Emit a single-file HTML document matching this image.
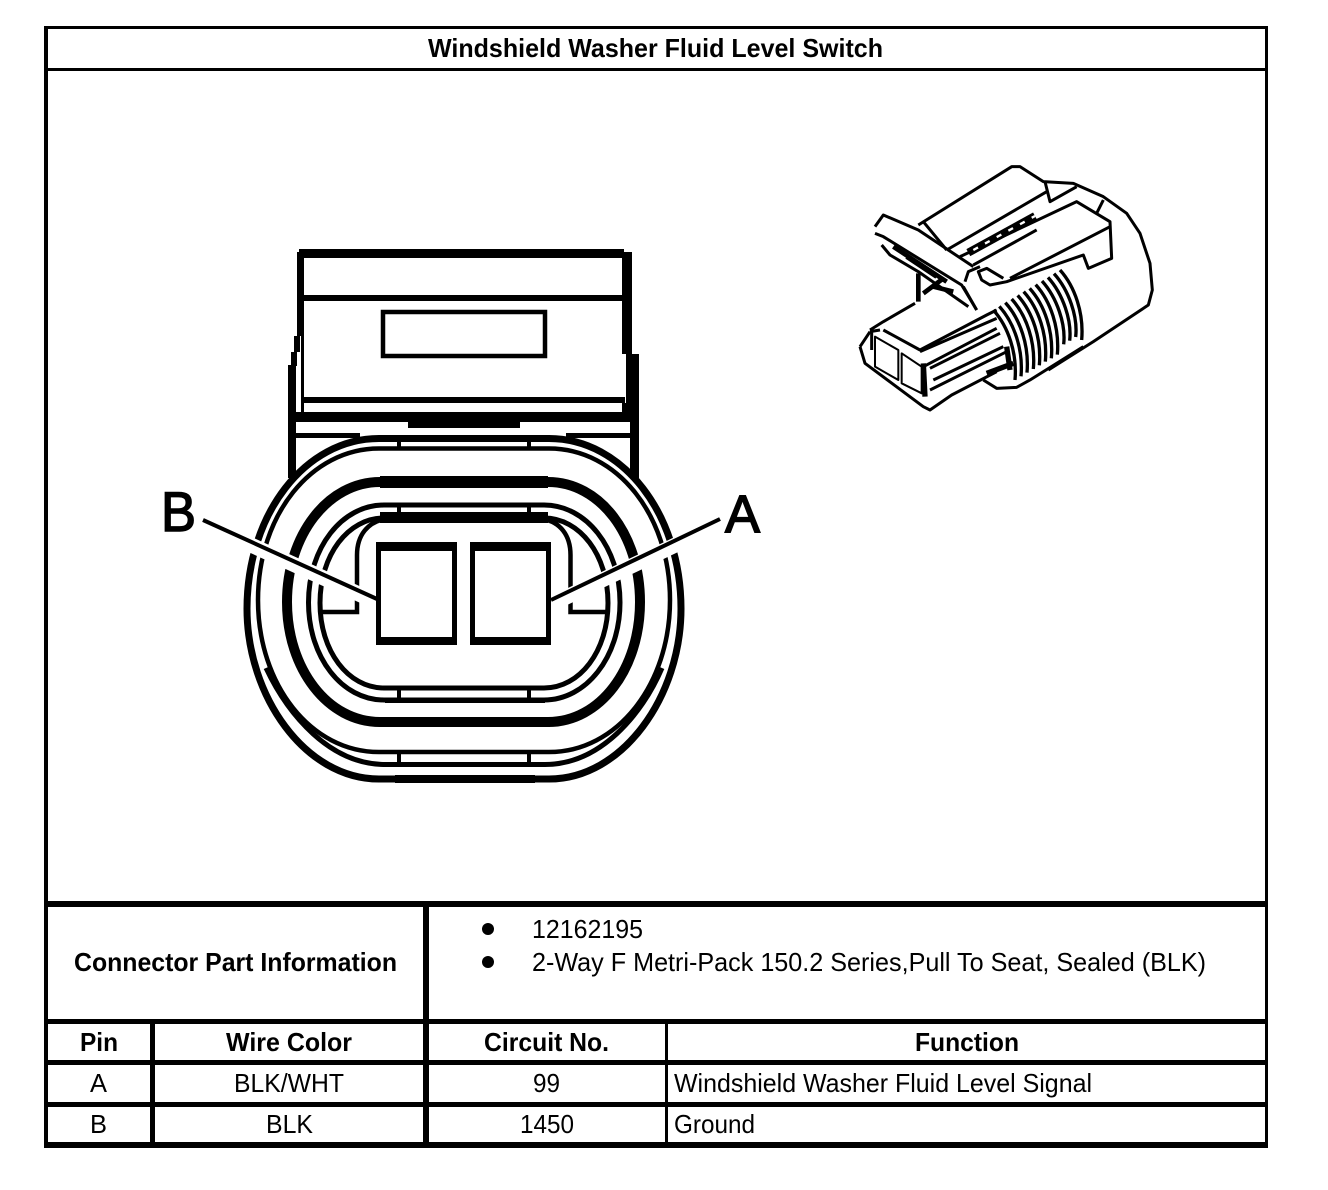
<!DOCTYPE html>
<html><head><meta charset="utf-8"><style>
html,body{margin:0;padding:0;background:#fff;width:1328px;height:1190px;overflow:hidden}
svg{display:block}
text{font-family:"Liberation Sans",Arial,sans-serif;font-size:26px;fill:#000}
.b{font-weight:bold}
</style></head><body>
<svg width="1328" height="1190" viewBox="0 0 1328 1190" xmlns="http://www.w3.org/2000/svg">
<rect width="1328" height="1190" fill="#fff"/>
<!-- table frame -->
<g fill="#000" shape-rendering="crispEdges">
<rect x="44" y="26" width="1224" height="3"/>
<rect x="44" y="68" width="1224" height="3"/>
<rect x="44" y="26" width="4" height="1122"/>
<rect x="1265" y="26" width="3" height="1122"/>
<rect x="44" y="901" width="1224" height="6"/>
<rect x="44" y="1019" width="1224" height="5"/>
<rect x="44" y="1060" width="1224" height="5"/>
<rect x="44" y="1102" width="1224" height="5"/>
<rect x="44" y="1142" width="1224" height="6"/>
<rect x="423" y="901" width="6" height="247"/>
<rect x="150" y="1019" width="5" height="129"/>
<rect x="665" y="1019" width="3" height="129"/>
</g>
<text class="b" x="428" y="57" textLength="455" lengthAdjust="spacingAndGlyphs">Windshield Washer Fluid Level Switch</text>
<text class="b" x="74" y="971" textLength="323" lengthAdjust="spacingAndGlyphs">Connector Part Information</text>
<circle cx="488" cy="929" r="6"/><circle cx="488" cy="962" r="6"/>
<text x="532" y="938" textLength="111" lengthAdjust="spacingAndGlyphs">12162195</text>
<text x="532" y="971" textLength="674" lengthAdjust="spacingAndGlyphs">2-Way F Metri-Pack 150.2 Series,Pull To Seat, Sealed (BLK)</text>
<text class="b" x="80" y="1051" textLength="38" lengthAdjust="spacingAndGlyphs">Pin</text>
<text class="b" x="226" y="1051" textLength="126" lengthAdjust="spacingAndGlyphs">Wire Color</text>
<text class="b" x="484" y="1051" textLength="125" lengthAdjust="spacingAndGlyphs">Circuit No.</text>
<text class="b" x="915" y="1051" textLength="104" lengthAdjust="spacingAndGlyphs">Function</text>
<text x="90" y="1092" textLength="17" lengthAdjust="spacingAndGlyphs">A</text>
<text x="234" y="1092" textLength="110" lengthAdjust="spacingAndGlyphs">BLK/WHT</text>
<text x="533" y="1092" textLength="27" lengthAdjust="spacingAndGlyphs">99</text>
<text x="674" y="1092" textLength="418" lengthAdjust="spacingAndGlyphs">Windshield Washer Fluid Level Signal</text>
<text x="90" y="1133" textLength="17" lengthAdjust="spacingAndGlyphs">B</text>
<text x="266" y="1133" textLength="47" lengthAdjust="spacingAndGlyphs">BLK</text>
<text x="520" y="1133" textLength="54" lengthAdjust="spacingAndGlyphs">1450</text>
<text x="674" y="1133" textLength="81" lengthAdjust="spacingAndGlyphs">Ground</text>

<!-- main connector -->
<g fill="none" stroke="#000">
<!-- top block -->
<g fill="#000" stroke="none" shape-rendering="crispEdges">
<rect x="299" y="249" width="325" height="9"/>
<rect x="297" y="252" width="7" height="84"/>
<rect x="622" y="252" width="10" height="102"/>
<rect x="304" y="295" width="318" height="6"/>
<rect x="294" y="336" width="6" height="16"/>
<rect x="288" y="365" width="8" height="113"/>
<rect x="291" y="352" width="6" height="14"/>
<rect x="301" y="336" width="3" height="76"/>
<rect x="626" y="354" width="13" height="66"/>
<rect x="622" y="403" width="6" height="10"/>
<rect x="630" y="420" width="9" height="58"/>
<rect x="304" y="397" width="321" height="6"/>
<rect x="295" y="412" width="335" height="10"/>
<rect x="408" y="422" width="112" height="6"/>
<rect x="294" y="433" width="66" height="5"/>
<rect x="566" y="433" width="66" height="5"/>
</g>
<rect x="383" y="312" width="162" height="44" stroke-width="4.5"/>
<!-- rings -->
<path stroke-width="7" d="M379 438.5H549C623 438.5 681 514 681 608.75C681 696 623 779 549 779H379C305 779 247 696 247 608.75C247 514 305 438.5 379 438.5Z"/>
<path stroke-width="4.5" d="M379 448.5H549C617 448.500 670 515 670 600C670 685 617 752 549 752H379C311 752 258 685 258 600C258 515 311 448.5 379 448.5Z"/>
<path stroke-width="5" d="M266 668C288 715 330 764.5 385 764.5H545C600 764.5 642 715 662 668"/>
<path stroke-width="10" d="M380 482H548C600 482 640 535 640 602C640 669 600 722 548 722H380C328 722 287 669 287 602C287 535 328 482 380 482Z"/>
<path stroke-width="5" d="M384 505H544C586 505 620 547.5 620 602.5C620 657.5 586 700 544 700H384C342 700 308.5 657.5 308.5 602.5C308.5 547.5 342 505 384 505Z"/>
<path stroke-width="5" d="M384 518H544C580 518 608 555 608 603C608 651 580 688 544 688H384C348 688 320 651 320 603C320 555 348 518 384 518Z"/>
<g fill="#000" stroke="none" shape-rendering="crispEdges">
<rect x="380" y="512" width="168" height="11"/>
<rect x="385" y="698" width="160" height="5"/>
<rect x="380" y="476" width="168" height="12"/>
<rect x="380" y="717" width="170" height="10"/>
<rect x="380" y="435" width="170" height="7"/>
<rect x="395" y="775" width="140" height="8"/>
<rect x="397" y="442" width="4" height="6"/>
<rect x="527" y="442" width="4" height="6"/>
<rect x="397" y="505" width="4" height="8"/>
<rect x="527" y="505" width="4" height="8"/>
<rect x="397" y="688" width="4" height="11"/>
<rect x="527" y="688" width="4" height="11"/>
<rect x="397" y="752" width="4" height="14"/>
<rect x="527" y="752" width="4" height="14"/>
</g>
<!-- inner notches -->
<path stroke-width="4.5" d="M385 519C368 522 357 535 357 555V612H320"/>
<path stroke-width="4.5" d="M543 519C560 522 570.5 535 570.5 555V612H608"/>
<!-- halos -->
<line x1="240" y1="540" x2="372" y2="600" stroke="#fff" stroke-width="15"/>
<line x1="688" y1="539" x2="556" y2="602" stroke="#fff" stroke-width="15"/>
<!-- pins -->
<g fill="#000" stroke="none" shape-rendering="crispEdges">
<path fill-rule="evenodd" d="M376 542H457V645H376ZM381 551V637H452V551Z"/>
<path fill-rule="evenodd" d="M470 542H551V645H470ZM475 551V637H546V551Z"/>
</g>
<!-- leaders -->
<line x1="203" y1="520" x2="377" y2="599" stroke-width="4"/>
<line x1="551" y1="600" x2="720" y2="519" stroke-width="4"/>
</g>
<text x="161" y="531" textLength="35" lengthAdjust="spacingAndGlyphs" style="font-size:56px;stroke:#000;stroke-width:1.5">B</text>
<text x="725" y="532" textLength="35" lengthAdjust="spacingAndGlyphs" style="font-size:53px;stroke:#000;stroke-width:1.5">A</text>

<!-- isometric view -->
<g transform="translate(840 150) scale(.33333)" fill="none" stroke="#000" stroke-width="9" stroke-linejoin="round">
<path d="M235 225L515 50H540L610 95L700 100L790 140L860 190L900 250L930 340L937 420L925 465L760 575L625 660"/>
<path d="M250 215L320 300M320 300L620 125M615 95L630 155L710 110M770 190L790 150"/>
<path d="M360 320L710 155L810 215L815 325L745 355L730 315L500 395L450 405L425 390L415 365L440 355L490 385M510 385L810 230"/>
<path stroke-width="24" d="M385 308L585 198"/>
<path stroke="#fff" stroke-width="7" stroke-dasharray="16 24" d="M400 300L585 198"/>
<path d="M400 345L590 240"/>
<path d="M105 230L130 195L235 240L400 350"/>
<path d="M105 250L130 260L365 405L410 480"/>
<path d="M125 285L150 315L235 365L385 470"/>
<path stroke-width="14" d="M160 290L320 395M235 370V455M250 430L310 385M280 410L340 425M200 320L290 380"/>
<path d="M375 395L385 365L420 350M370 410L410 480"/>
<path d="M90 540L130 515L225 460M130 540L240 600L440 495L470 480M240 605L470 505"/>
<path d="M60 590L90 545M60 590L75 640L250 770L270 780L335 735L470 665"/>
<path d="M90 545L120 540M95 545V600"/>
<path stroke-width="6" d="M105 560L175 600V690L105 650ZM185 610L245 650V730L185 700Z"/>
<path stroke-width="16" d="M250 640L255 740"/>
<path d="M250 650L470 535M270 655L480 550M270 720L500 605M280 690L490 590"/>
<path stroke-width="10" d="M460 480c45 50 72 130 65 210M478 469c45 50 72 130 65 210M496 458c45 50 72 130 65 210M515 447c45 50 72 130 65 210M533 436c45 50 72 130 65 210M551 425c45 50 72 130 65 210M569 415c45 50 72 130 65 210M587 404c45 50 72 130 65 210M606 393c45 50 72 130 65 190M624 382c45 50 72 130 65 190M642 371c45 50 72 130 65 190M660 360c45 50 72 130 65 210"/>
<path d="M430 690L470 715L530 712L570 690L730 590"/>
<path stroke-width="16" d="M440 670L520 640M500 590L510 660"/>
</g>
</svg>
</body></html>
